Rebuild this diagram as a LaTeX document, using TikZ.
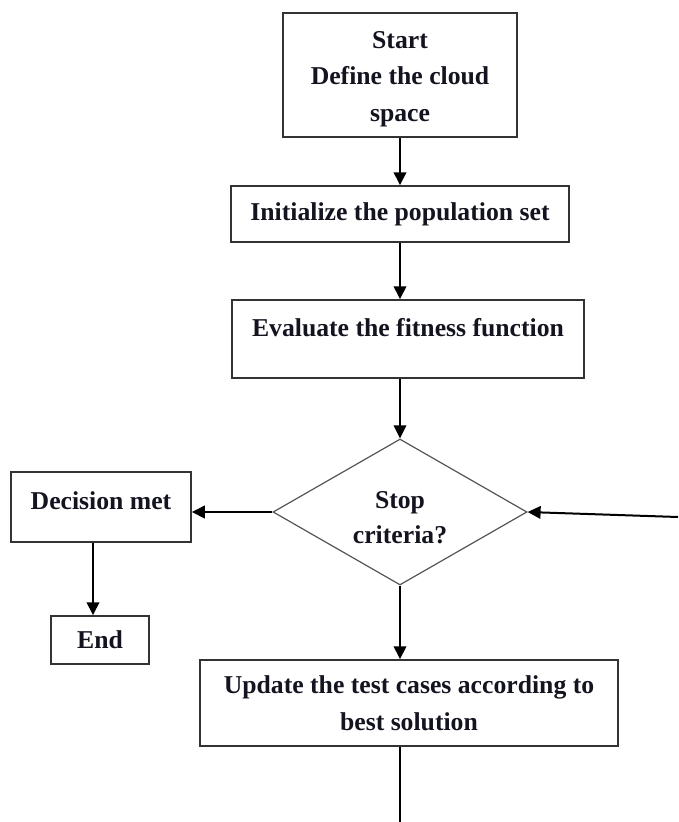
\documentclass[tikz,border=0pt]{standalone}
\usepackage{fontspec}
\setmainfont{Liberation Serif}
\usetikzlibrary{shapes.geometric,arrows.meta}
\definecolor{boxgray}{HTML}{333333}
\definecolor{diagray}{HTML}{555555}
\definecolor{txt}{HTML}{141420}
\begin{document}
\begin{tikzpicture}[x=1pt,y=-1pt,
  box/.style={draw=boxgray, line width=1.5pt, fill=white, inner sep=0pt, align=center, text=txt,
    font=\fontsize{25.7}{36.5}\selectfont\bfseries},
  txtnode/.style={inner sep=0pt, align=center, text=txt, font=\fontsize{25.7}{36.5}\selectfont\bfseries},
  arr/.style={line width=2pt, draw=black, -{Triangle[length=13pt,width=12.5pt]}}]
\useasboundingbox (0,0) rectangle (678,822);

\node[box, minimum width=234pt, minimum height=124pt] (start) at (400,75) {};
\node[txtnode] (starttxt) at (400,79) {Start\\Define the cloud\\space};
\node[box, minimum width=338pt, minimum height=56pt] (init) at (400,214) {Initialize the population set};
\node[box, minimum width=352pt, minimum height=78pt] (eval) at (408,339) {};
\node[txtnode] (evaltxt) at (408,328) {Evaluate the fitness function};
\node[diamond, draw=diagray, line width=1.2pt, inner sep=0pt, minimum width=254pt, minimum height=146pt] (dec) at (400,512) {};
\node[txtnode, font=\fontsize{25.7}{35}\selectfont\bfseries] (dectxt) at (400,518) {Stop\\criteria?};
\node[box, minimum width=180pt, minimum height=70pt] (dm) at (101,507) {};
\node[txtnode] (dmtxt) at (101,501) {Decision met};
\node[box, minimum width=98pt, minimum height=48pt] (end) at (100,640) {End};
\node[box, minimum width=418pt, minimum height=86pt] (upd) at (409,703) {Update the test cases according to\\best solution};

\coordinate (rin) at (678,517);
\coordinate (bot) at (400,822);

\draw[arr] (start.south) -- (init.north);
\draw[arr] (init.south) -- (init.south |- eval.north);
\draw[arr] (eval.south -| dec.north) -- (dec.north);
\draw[arr] (dec.west) -- (dm.east |- dec.west);
\draw[arr] (dec.south) -- (dec.south |- upd.north);
\draw[arr] (rin) -- (dec.east);
\draw[arr] ([xshift=-8pt]dm.south) -- ([xshift=-7pt]end.north);
\draw[line width=1.5pt] (upd.south -| bot) -- (bot);
\end{tikzpicture}
\end{document}
